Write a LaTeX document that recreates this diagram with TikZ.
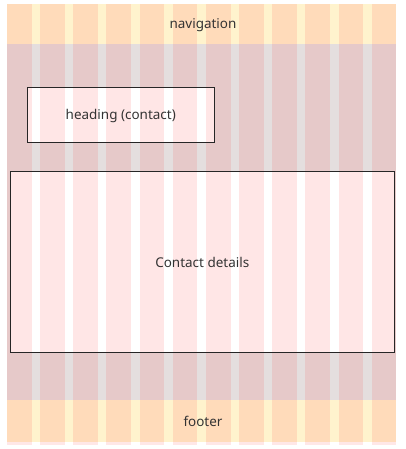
\documentclass[tikz,border=0pt]{standalone}
\usepackage{fontspec}
\setmainfont{Noto Sans}
\definecolor{headbg}{HTML}{FFF3CD}
\definecolor{mainbg}{HTML}{E4DEDE}
\definecolor{colred}{HTML}{FF2020}
\tikzset{
  band/.style={draw=none},
  stripe/.style={fill=colred, fill opacity=0.11, draw=none},
  boxfill/.style={fill=white, draw=none},
  boxline/.style={draw=black!85, line width=0.75pt},
  lbl/.style={font=\fontsize{10.1}{12}\selectfont, text=black!80, inner sep=0pt}
}
\begin{document}
\begin{tikzpicture}[x=0.75pt, y=-0.75pt]
\useasboundingbox (0,0) rectangle (406,449);
% bands
\fill[headbg] (7,4) rectangle (396.3,44);
\fill[mainbg] (7,44) rectangle (396.3,400);
\fill[headbg] (7,400) rectangle (396.3,442);
% content boxes (backgrounds)
\fill[white] (27,88) rectangle (214.5,142.5);
\fill[white] (10,171.5) rectangle (394.5,352.5);
% column stripes
\foreach \k in {0,...,11} {
  \fill[stripe] ({7+33.15*\k},4) rectangle ({7+33.15*\k+24.6},445);
}
% box outlines and labels
\node[boxline, minimum width=187.5*0.75pt, minimum height=54.5*0.75pt, inner sep=0pt] (heading) at (120.75,115.25) {};
\node[boxline, minimum width=384.5*0.75pt, minimum height=181*0.75pt, inner sep=0pt] (details) at (202.25,262) {};
\node[lbl] (nav) at (203,25.5) {navigation};
\node[lbl] (headtxt) at ([yshift=-0.4pt]heading.center) {heading (contact)};
\node[lbl] (dettxt) at ([yshift=-0.4pt]details.center) {Contact details};
\node[lbl] (foot) at (203,421.5) {footer};
\end{tikzpicture}
\end{document}
